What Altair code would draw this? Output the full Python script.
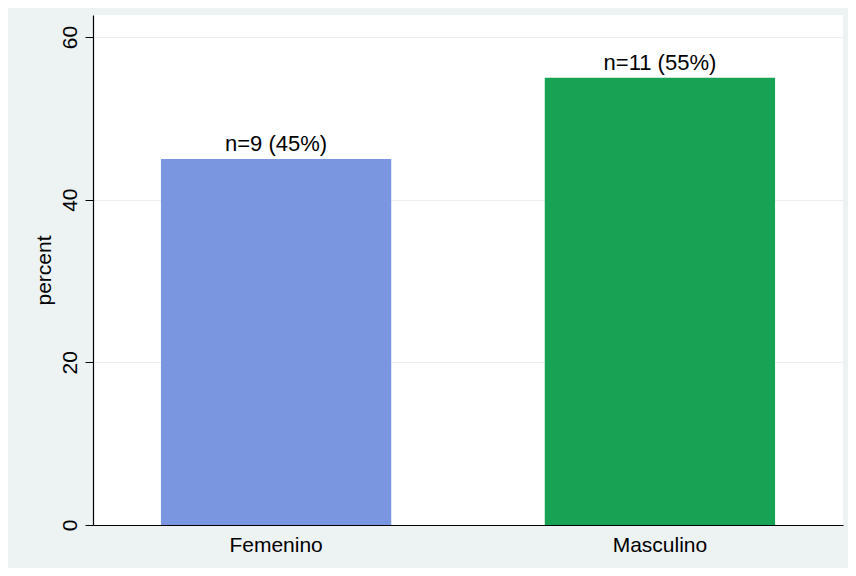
import altair as alt
import pandas as pd

categories = ["Femenino", "Masculino"]
counts = [9, 11]
percents = [45, 55]
bar_colors = ["#7a96e1", "#18a354"]
y_ticks = [0, 20, 40, 60]

df = pd.DataFrame({"sexo": categories, "n": counts, "percent": percents})
df["label"] = [f"n={n} ({p}%)" for n, p in zip(counts, percents)]

FONT = "Liberation Sans"

x = alt.X(
    "sexo:N",
    title=None,
    sort=categories,
    scale=alt.Scale(paddingInner=0.4, paddingOuter=0.177),
    axis=alt.Axis(
        labelAngle=0,
        ticks=False,
        domainColor="black",
        domainWidth=1.2,
        labelFontSize=21,
        labelFont=FONT,
        labelColor="black",
        labelPadding=9,
        grid=False,
    ),
)
y = alt.Y(
    "percent:Q",
    title="percent",
    scale=alt.Scale(domain=[0, 62.7], nice=False),
    axis=alt.Axis(
        values=y_ticks,
        labelAngle=270,
        labelAlign="center",
        labelBaseline="bottom",
        labelFontSize=21,
        labelFont=FONT,
        labelColor="black",
        labelPadding=5,
        tickSize=8,
        tickColor="black",
        domainColor="black",
        domainWidth=1.2,
        titleFont=FONT,
        titleFontSize=21,
        titleFontWeight="normal",
        titleColor="black",
        titlePadding=5,
        grid=True,
        gridColor="#e9eef1",
        gridWidth=1,
    ),
)

base = alt.Chart(df)
bars = base.mark_bar().encode(
    x=x,
    y=y,
    color=alt.Color("sexo:N", scale=alt.Scale(domain=categories, range=bar_colors), legend=None),
)
text = base.mark_text(baseline="alphabetic", dy=-8, fontSize=22, font=FONT, color="black").encode(
    x=alt.X("sexo:N", sort=categories),
    y=alt.Y("percent:Q"),
    text="label:N",
)

chart = (
    alt.layer(bars, text)
    .properties(
        width=750,
        height=510,
        background="#edf2f3",
        padding={"left": 85, "top": 7, "right": 5, "bottom": 43},
        autosize=alt.AutoSizeParams(type="none"),
    )
    .configure_view(fill="white", stroke=None)
)

chart.save("out.html", embed_options={"renderer": "svg", "actions": False})
